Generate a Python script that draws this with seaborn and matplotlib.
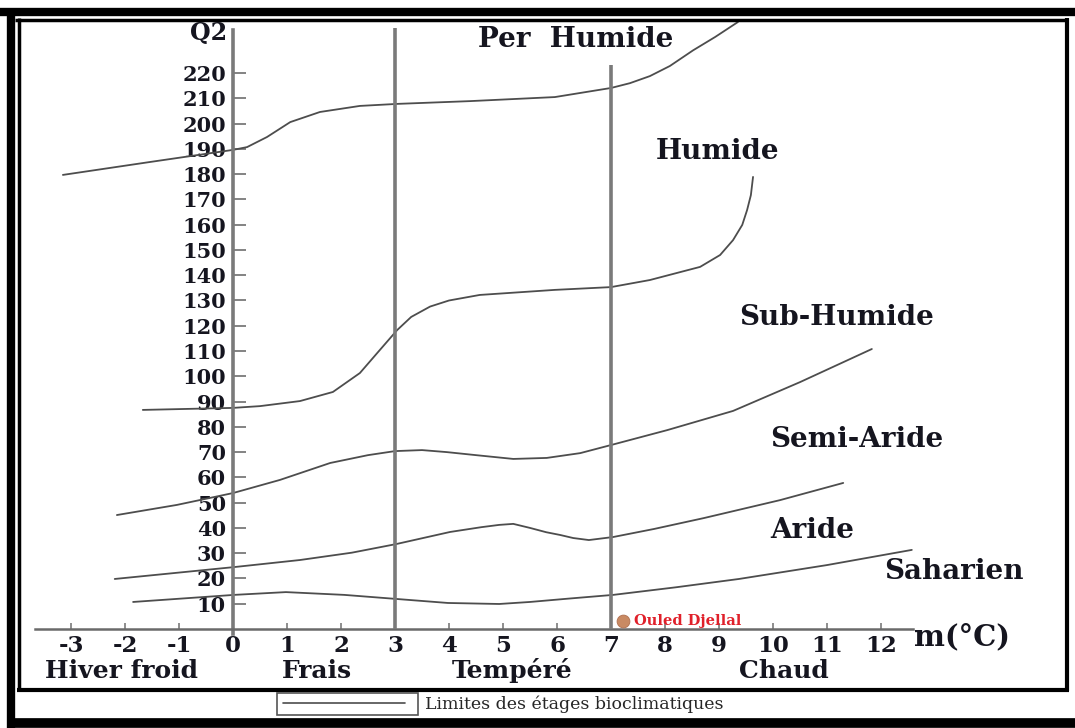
import numpy as np
import pandas as pd
import matplotlib
matplotlib.use("Agg")
import matplotlib.pyplot as plt
import seaborn as sns
from matplotlib.lines import Line2D
from matplotlib.patches import Rectangle

# Emberger climagram: limits of the bioclimatic stages (m in °C, Q2)
per_humide_m = [-3.15, -1.54, 0.0, 0.26, 0.63, 1.06, 1.61, 2.35, 3.04, 4.39, 5.96, 7.0,
                7.35, 7.72, 8.09, 8.52, 8.93, 9.35]
per_humide_q2 = [179.7, 184.8, 189.6, 190.7, 194.7, 200.6, 204.6, 207.0, 207.8, 208.9, 210.5, 214.1,
                 216.0, 218.8, 222.8, 229.0, 234.3, 240.2]

humide_m = [-1.67, 0.0, 0.5, 1.24, 1.85, 2.35, 2.67, 3.04, 3.3, 3.65, 4.0, 4.57, 5.96, 7.0,
            7.72, 8.65, 9.02, 9.26, 9.43, 9.52, 9.59, 9.63]
humide_q2 = [86.7, 87.5, 88.2, 90.2, 93.8, 101.3, 109.2, 118.3, 123.5, 127.6, 130.0, 132.2, 134.2, 135.3,
             138.1, 143.3, 148.0, 153.9, 159.9, 165.8, 171.7, 178.9]

sub_humide_m = [-2.15, -1.04, 0.0, 0.87, 1.8, 2.5, 3.0, 3.5, 3.96, 4.5, 5.19, 5.81, 6.43, 7.0,
                8.04, 9.26, 10.5, 11.83]
sub_humide_q2 = [45.1, 49.1, 53.8, 59.0, 65.7, 68.8, 70.4, 70.8, 70.0, 68.8, 67.3, 67.7, 69.6, 72.8,
                 78.7, 86.3, 97.7, 110.8]

semi_aride_m = [-2.19, 0.02, 1.24, 2.2, 3.02, 4.02, 4.6, 4.93, 5.19, 5.5, 5.8, 6.06, 6.3, 6.59, 7.04,
                7.8, 8.72, 10.13, 11.3]
semi_aride_q2 = [19.8, 24.5, 27.3, 30.2, 33.6, 38.4, 40.3, 41.2, 41.6, 40.0, 38.3, 37.2, 36.0, 35.2, 36.4,
                 39.6, 43.9, 51.0, 57.8]

aride_m = [-1.85, 0.02, 0.98, 2.06, 3.02, 3.98, 4.93, 5.5, 6.2, 7.04, 8.2, 9.37, 11.0, 12.57]
aride_q2 = [10.7, 13.5, 14.6, 13.5, 11.9, 10.3, 9.9, 10.7, 12.0, 13.5, 16.5, 19.8, 25.3, 31.3]

# Station
station_name = "Ouled Djellal"
station_m = [7.22]
station_q2 = [3.2]

# Winter variants (vertical limits of m)
variant_m = [3, 7]
variant_top = [237.8, 223.0]

x_ticks = list(range(-3, 13))
y_ticks = list(range(10, 230, 10))

stage_labels = ["Per  Humide", "Humide", "Sub-Humide", "Semi-Aride", "Aride", "Saharien"]
stage_m = [6.35, 8.98, 11.17, 11.55, 10.72, 13.34]
stage_q2 = [233.1, 188.8, 123.1, 74.8, 38.8, 22.6]

winter_labels = ["Hiver froid", "Frais", "Tempéré", "Chaud"]
winter_m = [-2.07, 1.56, 5.17, 10.2]

limits = pd.concat([
    pd.DataFrame({"m": per_humide_m, "Q2": per_humide_q2, "limite": "per_humide"}),
    pd.DataFrame({"m": humide_m, "Q2": humide_q2, "limite": "humide"}),
    pd.DataFrame({"m": sub_humide_m, "Q2": sub_humide_q2, "limite": "sub_humide"}),
    pd.DataFrame({"m": semi_aride_m, "Q2": semi_aride_q2, "limite": "semi_aride"}),
    pd.DataFrame({"m": aride_m, "Q2": aride_q2, "limite": "aride"}),
], ignore_index=True)

sns.set_theme(style="white")
plt.rcParams["font.family"] = ["DejaVu Serif"]

W, H = 1075, 728
fig = plt.figure(figsize=(W / 100, H / 100), dpi=100)
fig.patch.set_facecolor("white")

# axes fill the inner frame; data origin sits at the crossing of the two axes
ax = fig.add_axes([17 / W, (H - 690) / H, (1067 - 17) / W, (690 - 20) / H])
ax.set_facecolor("none")
ax.set_xlim(-4.0, 15.444)
ax.set_ylim(-24.14, 241.0)

line_col = "#4d4d4d"
axis_col = "#7a7a7a"
text_col = "#15151f"

sns.lineplot(data=limits, x="m", y="Q2", units="limite", estimator=None,
             sort=False, color=line_col, linewidth=1.3, ax=ax, legend=False)

ax.vlines(variant_m, 0, variant_top, colors=axis_col, linewidth=2.6, zorder=3)

ax.scatter(station_m, station_q2, s=85, color="#c98a63", edgecolor="#b07050",
           linewidth=0.6, zorder=5)
ax.text(station_m[0] + 0.2, station_q2[0], station_name, color="#e0202a",
        fontsize=10.5, fontweight="bold", va="center", ha="left")

for sp in ["top", "right"]:
    ax.spines[sp].set_visible(False)
ax.spines["left"].set_position(("data", 0))
ax.spines["left"].set_bounds(-2, 237)
ax.spines["left"].set_color(axis_col)
ax.spines["left"].set_linewidth(2.6)
ax.spines["bottom"].set_position(("data", 0))
ax.spines["bottom"].set_bounds(-3.67, 12.6)
ax.spines["bottom"].set_color("#6a6a6a")
ax.spines["bottom"].set_linewidth(1.8)

ax.set_xticks(x_ticks)
ax.set_xticklabels([str(v) for v in x_ticks])
ax.set_yticks(y_ticks)
ax.set_yticklabels([str(v) for v in y_ticks])
ax.tick_params(axis="x", bottom=True, direction="in", length=4, width=1.2, color=axis_col,
               pad=4, labelsize=16.5, labelcolor=text_col)
ax.tick_params(axis="y", left=True, direction="in", length=9, width=1.3, color=axis_col,
               pad=5, labelsize=15, labelcolor=text_col)
for lab in ax.get_xticklabels() + ax.get_yticklabels():
    lab.set_fontweight("bold")
ax.set_xlabel("")
ax.set_ylabel("")

ax.text(-0.46, 235.8, "Q2", fontsize=17, fontweight="bold", color=text_col,
        ha="center", va="center")
ax.text(13.5, -3.2, "m(°C)", fontsize=21, fontweight="bold", color=text_col,
        ha="center", va="center")

for lab, xm, yq in zip(stage_labels, stage_m, stage_q2):
    ax.text(xm, yq, lab, fontsize=20, fontweight="bold", color=text_col,
            ha="center", va="center")
for lab, xm in zip(winter_labels, winter_m):
    ax.text(xm, -16.6, lab, fontsize=18, fontweight="bold", color=text_col,
            ha="center", va="center")

# double frame around the figure
def fig_line(x0, y0, x1, y1, lw):
    fig.add_artist(Line2D([x0 / W, x1 / W], [1 - y0 / H, 1 - y1 / H],
                          color="black", linewidth=lw, solid_capstyle="butt"))

fig_line(0, 12, W, 12, 6.0)       # outer top
fig_line(11, 9, 11, H, 6.0)       # outer left
fig_line(7, 723, W, 723, 7.0)     # outer bottom
fig_line(15, 20, 1068, 20, 2.5)   # inner top
fig_line(19, 18, 19, 691, 2.5)    # inner left
fig_line(1067, 18, 1067, 691, 3.0)  # inner right
fig_line(17, 690, 1069, 690, 3.0)   # inner bottom

# legend of the limit lines
fig.add_artist(Rectangle((277 / W, 1 - 715 / H), (418 - 277) / W, (715 - 693) / H,
                         fill=False, edgecolor="#555555", linewidth=1.2))
handle = Line2D([], [], color=line_col, linewidth=1.2)
fig.legend([handle], ["Limites des étages bioclimatiques"], loc="center left",
           bbox_to_anchor=(283 / W, 1 - 704 / H), frameon=False,
           handlelength=7.0, handletextpad=1.2, borderpad=0, borderaxespad=0,
           prop={"family": "DejaVu Serif", "size": 12.5})

fig.savefig("out.png", dpi=100, facecolor="white")
